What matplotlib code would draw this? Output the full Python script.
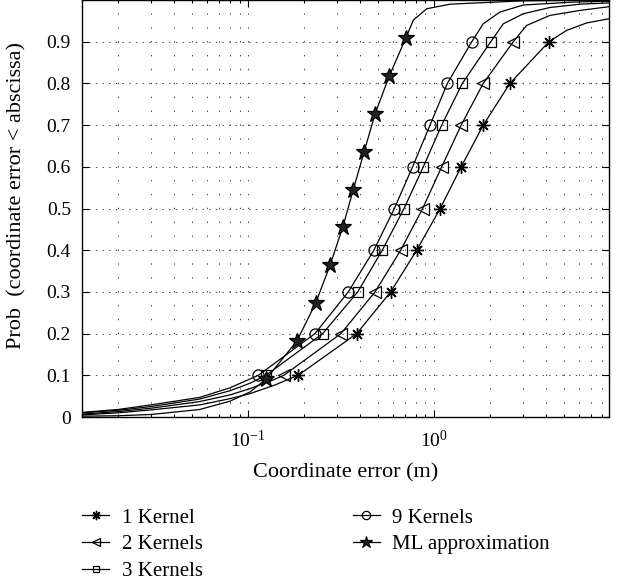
"""CDF of the coordinate error for the kernel mixtures and the ML approximation."""

import matplotlib

matplotlib.use("Agg")
import matplotlib.pyplot as plt
import numpy as np
from matplotlib.ticker import FixedLocator, LogLocator, NullFormatter

# probability levels where markers sit
levels = [0.1, 0.2, 0.3, 0.4, 0.5, 0.6, 0.7, 0.8, 0.9]
ml_levels = [0.091, 0.182, 0.273, 0.364, 0.455, 0.545, 0.636, 0.727, 0.818, 0.909]

# marker abscissas (m)
k1_x = [0.186, 0.384, 0.585, 0.807, 1.08, 1.40, 1.84, 2.56, 4.15]
k2_x = [0.156, 0.316, 0.482, 0.662, 0.869, 1.10, 1.40, 1.84, 2.67]
k3_x = [0.125, 0.252, 0.389, 0.527, 0.690, 0.876, 1.10, 1.42, 2.02]
k9_x = [0.1136, 0.229, 0.346, 0.475, 0.612, 0.767, 0.952, 1.18, 1.596]
ml_x = [0.125, 0.183, 0.231, 0.276, 0.323, 0.368, 0.421, 0.482, 0.575, 0.706]

# curve tails outside the marker range
k1_lo_x = [0.0128, 0.02, 0.03, 0.055, 0.08, 0.1025, 0.14]
k1_lo_y = [0.005, 0.010, 0.017, 0.029, 0.044, 0.056, 0.077]
k1_hi_x = [5.16, 6.62, 8.73]
k1_hi_y = [0.927, 0.945, 0.955]

k2_lo_x = [0.0128, 0.02, 0.03, 0.055, 0.08, 0.1025, 0.13]
k2_lo_y = [0.007, 0.013, 0.021, 0.037, 0.053, 0.068, 0.085]
k2_hi_x = [3.15, 4.2, 6.1, 8.73]
k2_hi_y = [0.939, 0.963, 0.975, 0.984]

k3_lo_x = [0.0128, 0.02, 0.03, 0.055, 0.08, 0.1025]
k3_lo_y = [0.010, 0.016, 0.025, 0.043, 0.063, 0.081]
k3_hi_x = [2.36, 3.02, 4.2, 6.1, 8.73]
k3_hi_y = [0.943, 0.967, 0.982, 0.990, 0.993]

k9_lo_x = [0.0128, 0.02, 0.03, 0.055, 0.08]
k9_lo_y = [0.011, 0.018, 0.029, 0.047, 0.070]
k9_hi_x = [1.84, 2.26, 3.02, 5.61, 8.73]
k9_hi_y = [0.943, 0.971, 0.988, 0.995, 0.997]

ml_lo_x = [0.0128, 0.02, 0.03, 0.055, 0.08, 0.1025]
ml_lo_y = [0.002, 0.003, 0.006, 0.018, 0.038, 0.060]
ml_hi_x = [0.775, 0.914, 1.22, 3.0, 8.73]
ml_hi_y = [0.952, 0.979, 0.990, 0.998, 1.0]

ytick_labels = ["0", "0.1", "0.2", "0.3", "0.4", "0.5", "0.6", "0.7", "0.8", "0.9"]

plt.rcParams["font.family"] = ["Liberation Serif", "DejaVu Serif"]
plt.rcParams["mathtext.fontset"] = "stix"
plt.rcParams["lines.scale_dashes"] = False

fig = plt.figure(figsize=(6.2, 5.83), dpi=100)
ax = fig.add_axes([82 / 620, 1 - 417 / 583, 527 / 620, 417 / 583])

series = [
    ("1 Kernel", k1_lo_x, k1_lo_y, k1_x, levels, k1_hi_x, k1_hi_y,
     dict(marker=(8, 2, 0), ms=9, mew=1.0, mfc="k")),
    ("2 Kernels", k2_lo_x, k2_lo_y, k2_x, levels, k2_hi_x, k2_hi_y,
     dict(marker="<", ms=8, mew=0.9, mfc="none")),
    ("3 Kernels", k3_lo_x, k3_lo_y, k3_x, levels, k3_hi_x, k3_hi_y,
     dict(marker="s", ms=6.5, mew=0.9, mfc="none")),
    ("9 Kernels", k9_lo_x, k9_lo_y, k9_x, levels, k9_hi_x, k9_hi_y,
     dict(marker="o", ms=8, mew=0.9, mfc="none")),
    ("ML approximation", ml_lo_x, ml_lo_y, ml_x, ml_levels, ml_hi_x, ml_hi_y,
     dict(marker="*", ms=12, mew=0.9, mfc="#222222")),
]

for label, lo_x, lo_y, mx, my, hi_x, hi_y, mstyle in series:
    cx = np.concatenate([lo_x, mx, hi_x])
    cy = np.concatenate([lo_y, my, hi_y])
    ax.plot(cx, cy, color="k", lw=0.9)
    ax.plot(mx, my, ls="none", color="k", mec="k", **mstyle)
    # legend proxy
    ax.plot([], [], color="k", lw=0.9, mec="k", label=label, **mstyle)

ax.set_xscale("log")
ax.set_xlim(0.0128, 8.73)
ax.set_ylim(0, 1)
ax.yaxis.set_major_locator(FixedLocator([i / 10 for i in range(10)]))
ax.set_yticklabels(ytick_labels)
ax.xaxis.set_major_locator(LogLocator(base=10))
ax.xaxis.set_minor_locator(LogLocator(base=10, subs=np.arange(2, 10)))
ax.xaxis.set_minor_formatter(NullFormatter())

ax.tick_params(which="both", direction="in", top=True, right=True,
               labelsize=14, width=0.8)
ax.tick_params(which="major", length=5)
ax.tick_params(which="minor", length=2.5)
ax.tick_params(axis="y", pad=8)
ax.tick_params(axis="x", pad=9)

ax.grid(axis="x", which="both", color="#444444", lw=0.7, ls=(0, (1, 9)))
ax.grid(axis="y", which="major", color="#444444", lw=0.7, ls=(0, (1, 3.8)))
for s in ax.spines.values():
    s.set_linewidth(1.0)

ax.set_xlabel("Coordinate error (m)", fontsize=16, labelpad=9)
ax.set_ylabel("Prob  (coordinate error < abscissa)", fontsize=16)
ax.yaxis.set_label_coords(-0.105, 0.53)

fig.legend(loc="upper left", bbox_to_anchor=(82 / 620, 1 - 508 / 583),
           ncol=2, frameon=False, fontsize=15, borderpad=0,
           borderaxespad=0, handlelength=1.3, handletextpad=0.6,
           columnspacing=7.2, labelspacing=0.35, markerscale=0.75)

fig.savefig("out.png", dpi=100)
